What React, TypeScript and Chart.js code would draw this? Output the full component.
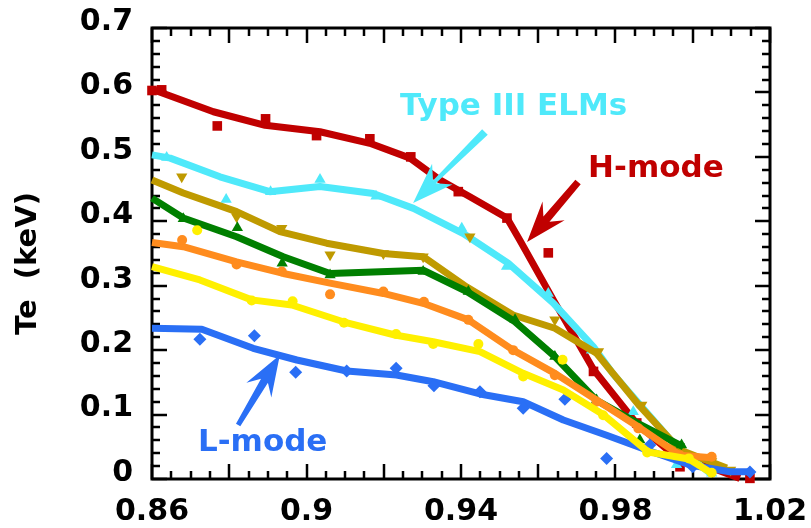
import React, { useEffect, useRef } from 'react';
import { Chart, registerables } from 'chart.js';

Chart.register(...registerables);

// ---------- tick labels / titles ----------
const X_TICK_LABELS = ['0.86', '0.9', '0.94', '0.98', '1.02'];
const Y_TICK_LABELS = ['0', '0.1', '0.2', '0.3', '0.4', '0.5', '0.6', '0.7'];
const Y_TITLE = 'Te  (keV)';

// ---------- H-mode (dark red, squares) ----------
const H_MODE_FIT = [
  [0.86, 0.605], [0.8759, 0.57], [0.8893, 0.549], [0.9035, 0.539], [0.9164, 0.521],
  [0.9268, 0.498], [0.9346, 0.464], [0.9423, 0.438], [0.9519, 0.405], [0.9552, 0.371],
  [0.9639, 0.278], [0.9743, 0.17], [0.9855, 0.086], [0.9941, 0.042], [1.0122, 0.001],
];
const H_MODE_PTS = [
  [0.86, 0.603], [0.8625, 0.604], [0.8769, 0.548], [0.8894, 0.559], [0.9026, 0.533],
  [0.9164, 0.528], [0.927, 0.5], [0.9393, 0.446], [0.9519, 0.405], [0.9626, 0.351],
  [0.9743, 0.167], [0.9855, 0.087], [0.9967, 0.019], [1.0148, 0.001],
];

// ---------- Type III ELMs (cyan, triangles) ----------
const ELM_FIT = [
  [0.86, 0.503], [0.8647, 0.498], [0.8776, 0.469], [0.8905, 0.446], [0.9035, 0.454],
  [0.9173, 0.443], [0.9277, 0.42], [0.9406, 0.381], [0.9522, 0.335], [0.9639, 0.273],
  [0.9743, 0.205], [0.9794, 0.163], [0.9958, 0.05], [1.0045, 0.009],
];
const ELM_PTS = [
  [0.8638, 0.499], [0.8792, 0.434], [0.8907, 0.446], [0.9035, 0.465], [0.918, 0.439],
  [0.9402, 0.389], [0.9518, 0.33], [0.9626, 0.288], [0.9738, 0.2], [0.9846, 0.1045],
  [0.9958, 0.022], [1.0049, 0.009],
];

// ---------- gold (inverted triangles) ----------
const GOLD_FIT = [
  [0.86, 0.464], [0.8681, 0.444], [0.8819, 0.415], [0.8931, 0.384], [0.9052, 0.366],
  [0.9199, 0.35], [0.9302, 0.345], [0.9415, 0.298], [0.9535, 0.2545], [0.9643, 0.234],
  [0.9751, 0.195], [0.9863, 0.113], [0.9967, 0.045], [1.0088, 0.017],
];
const GOLD_PTS = [
  [0.8677, 0.469], [0.8819, 0.407], [0.8936, 0.389], [0.9061, 0.348], [0.9199, 0.35],
  [0.9302, 0.345], [0.9423, 0.376], [0.9643, 0.247], [0.9756, 0.198], [0.9868, 0.115],
  [0.9967, 0.035], [1.0049, 0.027], [1.0098, 0.014],
];

// ---------- green (triangles) ----------
const GREEN_FIT = [
  [0.86, 0.436], [0.8681, 0.405], [0.8819, 0.376], [0.894, 0.345], [0.9061, 0.319],
  [0.9302, 0.324], [0.9415, 0.291], [0.954, 0.244], [0.9643, 0.19], [0.9751, 0.122],
  [0.9863, 0.085], [0.9976, 0.05],
];
const GREEN_PTS = [
  [0.8681, 0.404], [0.8821, 0.39], [0.8937, 0.335], [0.9061, 0.3166], [0.9302, 0.322],
  [0.9419, 0.291], [0.954, 0.247], [0.9643, 0.19], [0.9751, 0.1226], [0.9863, 0.0605],
  [0.9971, 0.0528],
];

// ---------- orange (circles) ----------
const ORANGE_FIT = [
  [0.86, 0.367], [0.8681, 0.3606], [0.8819, 0.337], [0.894, 0.319], [0.9061, 0.304],
  [0.9199, 0.288], [0.9302, 0.2727], [0.9419, 0.247], [0.9535, 0.2], [0.9643, 0.164],
  [0.9751, 0.1226], [0.9859, 0.081], [0.9967, 0.037], [1.0049, 0.033],
];
const ORANGE_PTS = [
  [0.8678, 0.371], [0.8819, 0.333], [0.8936, 0.322], [0.9061, 0.2866], [0.9199, 0.291],
  [0.9304, 0.275], [0.9419, 0.247], [0.9535, 0.2], [0.9643, 0.161], [0.9751, 0.12],
  [0.9859, 0.0786], [0.9967, 0.037], [1.0049, 0.0346],
];

// ---------- yellow (circles) ----------
const YELLOW_FIT = [
  [0.86, 0.3295], [0.8724, 0.309], [0.8858, 0.278], [0.8962, 0.27], [0.9095, 0.244],
  [0.9229, 0.2235], [0.9328, 0.213], [0.9449, 0.1976], [0.9561, 0.164], [0.9665, 0.138],
  [0.9768, 0.1], [0.9885, 0.042], [0.999, 0.031], [1.0049, 0.009],
];
const YELLOW_PTS = [
  [0.8717, 0.386], [0.8858, 0.277], [0.8964, 0.276], [0.9097, 0.2426], [0.9232, 0.225],
  [0.9328, 0.2095], [0.9445, 0.2095], [0.9561, 0.159], [0.9663, 0.185], [0.9768, 0.099],
  [0.9882, 0.041], [0.999, 0.032], [1.0049, 0.0098],
];

// ---------- L-mode (blue, diamonds) ----------
const L_MODE_FIT = [
  [0.86, 0.234], [0.8729, 0.2323], [0.8862, 0.2028], [0.8975, 0.1847], [0.9104, 0.1676],
  [0.9233, 0.1614], [0.9328, 0.151], [0.9449, 0.132], [0.9561, 0.12], [0.9665, 0.0916],
  [0.9777, 0.068], [0.9881, 0.045], [0.9993, 0.0217], [1.0096, 0.0113], [1.0148, 0.0113],
];
const L_MODE_PTS = [
  [0.8724, 0.2168], [0.8865, 0.2224], [0.8972, 0.1656], [0.9104, 0.1676], [0.9232, 0.1718],
  [0.933, 0.1448], [0.9449, 0.1355], [0.9561, 0.1097], [0.9669, 0.1237], [0.9777, 0.032],
  [0.9889, 0.0528], [1.0, 0.019], [1.0148, 0.011],
];

// ---------- annotations (data coordinates) ----------
const ANNOTATIONS = [
  { text: 'Type III ELMs', color: '#4FE9FA', x: 0.9242, y: 0.565,
    tail: [0.9462, 0.5386], tip: [0.9276, 0.4284], tailW: 8, headW: 4 },
  { text: 'H-mode', color: '#C00000', x: 0.9729, y: 0.4687,
    tail: [0.9703, 0.461], tip: [0.9571, 0.3678], tailW: 7, headW: 8 },
  { text: 'L-mode', color: '#2A6FF5', x: 0.8719, y: 0.0435,
    tail: [0.8823, 0.0838], tip: [0.8931, 0.1925], tailW: 5, headW: 8 },
];

const SERIES = [
  { name: 'H-mode', fit: H_MODE_FIT, pts: H_MODE_PTS, color: '#C00000', marker: 'rect', rot: 0, r: 6.8 },
  { name: 'Type III ELMs', fit: ELM_FIT, pts: ELM_PTS, color: '#4FE9FA', marker: 'triangle', rot: 0, r: 6.5 },
  { name: 'gold', fit: GOLD_FIT, pts: GOLD_PTS, color: '#BF9A00', marker: 'triangle', rot: 180, r: 6.5 },
  { name: 'green', fit: GREEN_FIT, pts: GREEN_PTS, color: '#007F00', marker: 'triangle', rot: 0, r: 6.5 },
  { name: 'orange', fit: ORANGE_FIT, pts: ORANGE_PTS, color: '#FF8C1E', marker: 'circle', rot: 0, r: 5 },
  { name: 'L-mode', fit: L_MODE_FIT, pts: L_MODE_PTS, color: '#2A6FF5', marker: 'rectRot', rot: 0, r: 6.5 },
  { name: 'yellow', fit: YELLOW_FIT, pts: YELLOW_PTS, color: '#FFF000', marker: 'circle', rot: 0, r: 5 },
];

const FONT = '"DejaVu Sans", sans-serif';

function drawFrame(chart: any) {
  const { ctx, chartArea: a, scales } = chart;
  const xs = scales.x, ys = scales.y;
  ctx.save();
  ctx.globalAlpha = 1;
  ctx.globalCompositeOperation = 'source-over';
  ctx.setLineDash([]);
  ctx.strokeStyle = '#000000';
  ctx.lineCap = 'butt';
  ctx.lineWidth = 2.5;
  ctx.beginPath();
  for (let i = 0; i <= 32; i++) {
    const px = Math.round(xs.getPixelForValue(0.86 + i * 0.005));
    const len = i % 4 === 0 ? 15 : 8;
    ctx.moveTo(px, a.bottom); ctx.lineTo(px, a.bottom - len);
    ctx.moveTo(px, a.top); ctx.lineTo(px, a.top + len);
  }
  for (let i = 0; i <= 35; i++) {
    const py = Math.round(ys.getPixelForValue(i * 0.02));
    const len = i % 5 === 0 ? 15 : 8;
    ctx.moveTo(a.left, py); ctx.lineTo(a.left + len, py);
    ctx.moveTo(a.right, py); ctx.lineTo(a.right - len, py);
  }
  ctx.stroke();
  ctx.lineWidth = 3;
  ctx.beginPath();
  ctx.rect(a.left, a.top, a.right - a.left, a.bottom - a.top);
  ctx.stroke();
  ctx.restore();
}

const framePlugin = {
  id: 'plotFrame',
  beforeDatasetsDraw(chart: any) {
    drawFrame(chart);
  },
};

const titlePlugin = {
  id: 'yTitleText',
  afterDraw(chart: any) {
    const { ctx, chartArea: a } = chart;
    ctx.save();
    ctx.fillStyle = '#000';
    ctx.font = `bold 29px ${FONT}`;
    ctx.textAlign = 'center';
    ctx.textBaseline = 'middle';
    ctx.translate(28, (a.top + a.bottom) / 2 + 10);
    ctx.rotate(-Math.PI / 2);
    ctx.fillText(Y_TITLE, 0, 0);
    ctx.restore();
  },
};

function drawArrow(ctx: CanvasRenderingContext2D, tx: number, ty: number, hx: number, hy: number,
  color: string, tailW: number, headW: number) {
  const dx = hx - tx, dy = hy - ty;
  const L = Math.hypot(dx, dy);
  const ux = dx / L, uy = dy / L;
  const px = -uy, py = ux;
  const headLen = 41, half = 14.5, notch = 30;
  const nx = hx - ux * notch, ny = hy - uy * notch;
  const bx = hx - ux * headLen, by = hy - uy * headLen;
  ctx.save();
  ctx.fillStyle = color;
  ctx.beginPath();
  ctx.moveTo(hx, hy);
  ctx.lineTo(bx + px * half, by + py * half);
  ctx.lineTo(nx + px * headW / 2, ny + py * headW / 2);
  ctx.lineTo(tx + px * tailW / 2, ty + py * tailW / 2);
  ctx.lineTo(tx - px * tailW / 2, ty - py * tailW / 2);
  ctx.lineTo(nx - px * headW / 2, ny - py * headW / 2);
  ctx.lineTo(bx - px * half, by - py * half);
  ctx.closePath();
  ctx.fill();
  ctx.restore();
}

const annotationPlugin = {
  id: 'annotations',
  afterDatasetsDraw(chart: any) {
    const { ctx, scales } = chart;
    const xs = scales.x, ys = scales.y;
    ANNOTATIONS.forEach((an) => {
      drawArrow(ctx,
        xs.getPixelForValue(an.tail[0]), ys.getPixelForValue(an.tail[1]),
        xs.getPixelForValue(an.tip[0]), ys.getPixelForValue(an.tip[1]),
        an.color, an.tailW, an.headW);
      ctx.save();
      ctx.fillStyle = an.color;
      ctx.font = `bold 31px ${FONT}`;
      ctx.textAlign = 'left';
      ctx.textBaseline = 'alphabetic';
      ctx.fillText(an.text, xs.getPixelForValue(an.x), ys.getPixelForValue(an.y));
      ctx.restore();
    });
  },
};

function zeroPadding(s: any) {
  s.paddingTop = 0;
  s.paddingBottom = 0;
  s.paddingLeft = 0;
  s.paddingRight = 0;
}

export default function App() {
  const ref = useRef<HTMLCanvasElement>(null);
  useEffect(() => {
    document.body.style.margin = '0';
    const canvas = ref.current;
    if (!canvas) return;
    const datasets: any[] = [];
    const n = SERIES.length;
    SERIES.forEach((s, k) => {
      datasets.push({
        type: 'line',
        label: s.name + ' fit',
        data: s.fit.map(([x, y]) => ({ x, y })),
        borderColor: s.color,
        backgroundColor: s.color,
        borderWidth: 7,
        pointRadius: 0,
        fill: false,
        tension: 0,
        borderJoinStyle: 'round',
        borderCapStyle: 'butt',
        clip: false,
        order: (n - k) * 2 + 1,
      });
      datasets.push({
        type: 'scatter',
        label: s.name,
        data: s.pts.map(([x, y]) => ({ x, y })),
        backgroundColor: s.color,
        borderColor: s.color,
        borderWidth: 0,
        pointStyle: s.marker,
        rotation: s.rot,
        pointRadius: s.r,
        showLine: false,
        clip: false,
        order: (n - k) * 2,
      });
    });
    const tickFont = { family: FONT, weight: 'bold' as const, size: 30 };
    const chart = new Chart(canvas, {
      type: 'scatter',
      data: { datasets },
      options: {
        responsive: false,
        animation: false,
        events: [],
        layout: { padding: { top: 28, right: 41, left: 0, bottom: 0 } },
        plugins: { legend: { display: false }, tooltip: { enabled: false } },
        scales: {
          x: {
            type: 'linear', min: 0.86, max: 1.02,
            grid: { display: false, drawTicks: false },
            border: { display: false },
            ticks: {
              stepSize: 0.04, padding: 15, color: '#000', font: tickFont,
              maxRotation: 0, autoSkip: false,
              callback: (_v: any, i: number) => X_TICK_LABELS[i],
            },
            afterFit: (s: any) => { s.height = 49; zeroPadding(s); },
          },
          y: {
            type: 'linear', min: 0, max: 0.7,
            grid: { display: false, drawTicks: false },
            border: { display: false },
            ticks: {
              stepSize: 0.1, padding: 19, labelOffset: -6, color: '#000', font: tickFont,
              autoSkip: false,
              callback: (_v: any, i: number) => Y_TICK_LABELS[i],
            },
            afterFit: (s: any) => { s.width = 152; zeroPadding(s); },
          },
        },
      } as any,
      plugins: [annotationPlugin, framePlugin, titlePlugin],
    });
    return () => chart.destroy();
  }, []);
  return (
    <div style={{ width: 811, height: 528 }}>
      <canvas ref={ref} width={811} height={528} style={{ display: 'block' }} />
    </div>
  );
}
